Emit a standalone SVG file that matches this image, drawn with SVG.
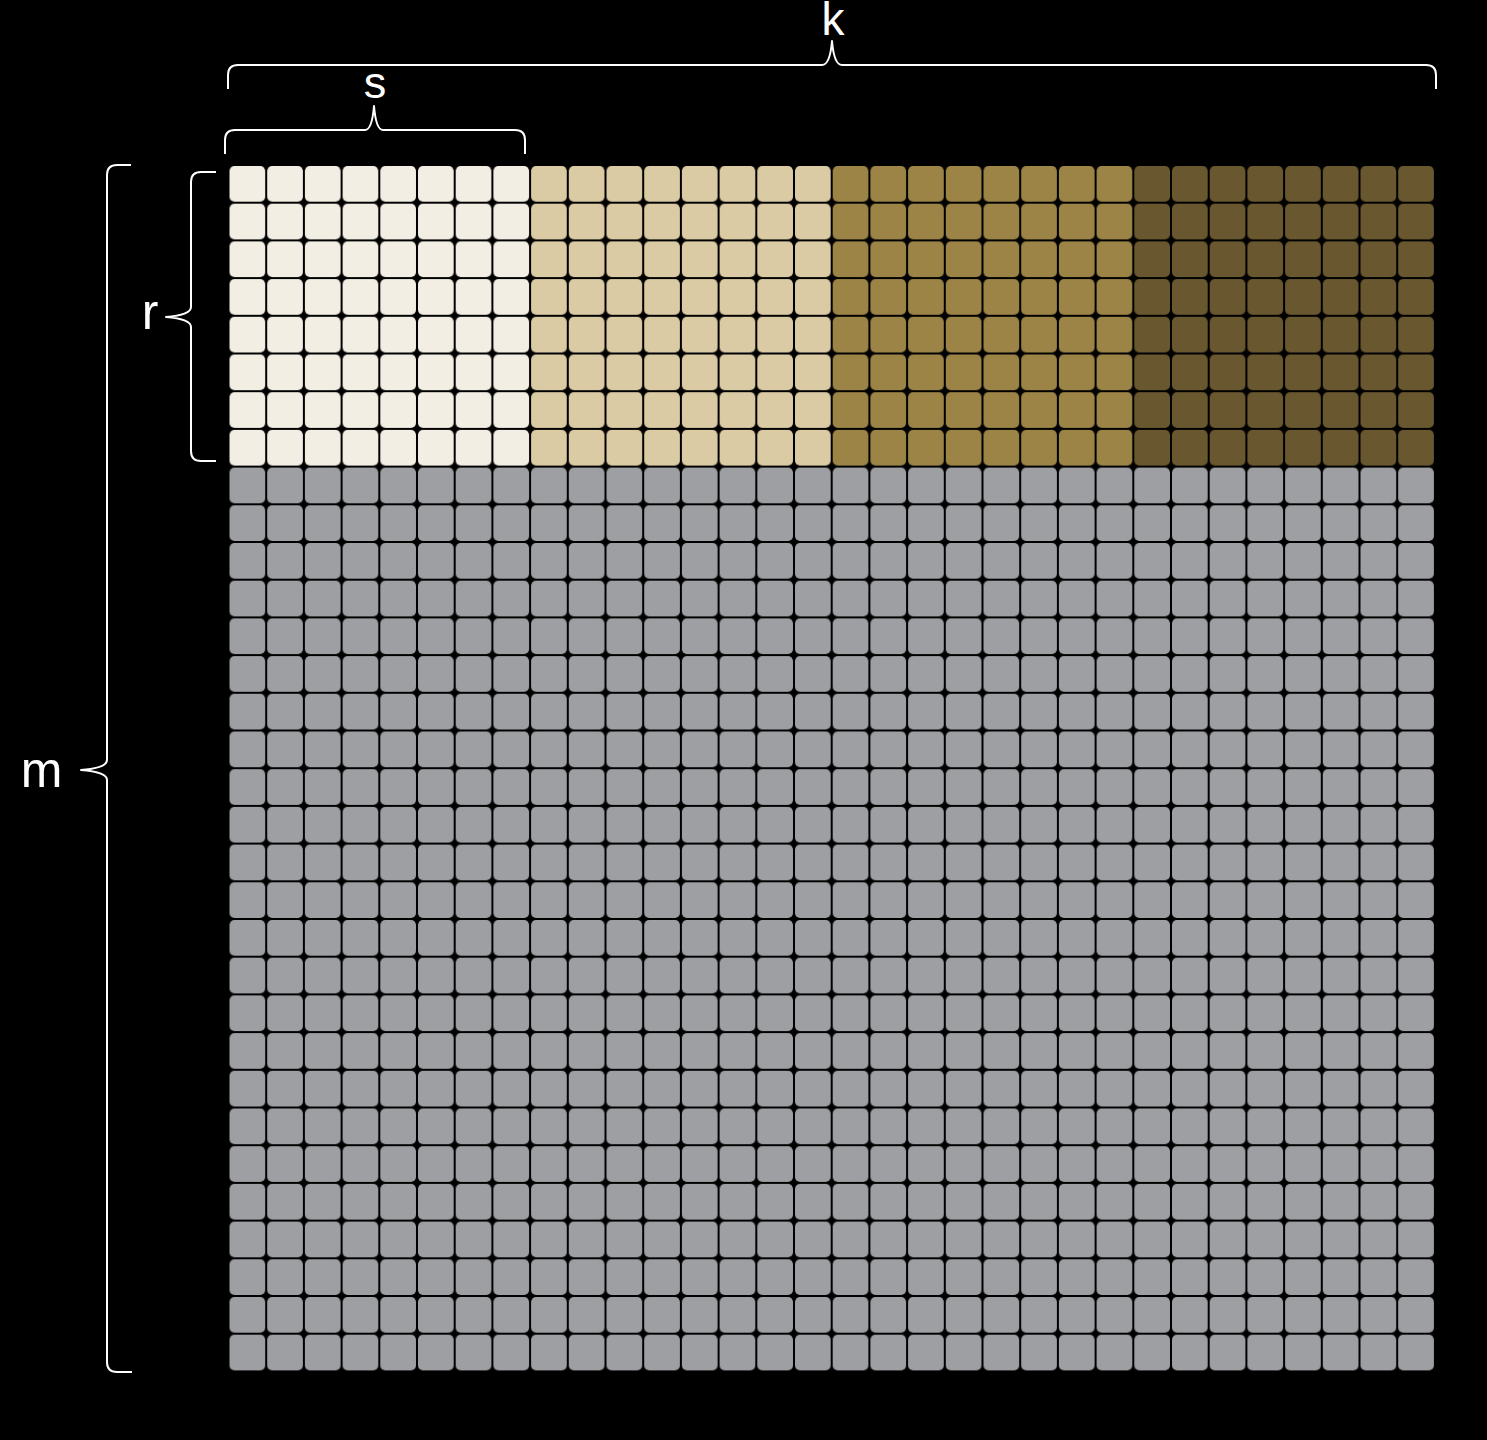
<svg xmlns="http://www.w3.org/2000/svg" width="1487" height="1440" viewBox="0 0 1487 1440">
<style>
.brace{fill:none;stroke:#fff;stroke-width:2;stroke-linejoin:round;stroke-linecap:butt}
.lbl{fill:#fff;font-family:"Liberation Sans",Arial,sans-serif;text-anchor:middle}
</style>
<defs>
<pattern id="pC" x="228.5" y="165" width="37.7" height="37.7" patternUnits="userSpaceOnUse"><rect x="1" y="1" width="35.7" height="35.7" rx="5" fill="#F3EEE4"/></pattern>
<pattern id="pT" x="228.5" y="165" width="37.7" height="37.7" patternUnits="userSpaceOnUse"><rect x="1" y="1" width="35.7" height="35.7" rx="5" fill="#DBCBA5"/></pattern>
<pattern id="pG" x="228.5" y="165" width="37.7" height="37.7" patternUnits="userSpaceOnUse"><rect x="1" y="1" width="35.7" height="35.7" rx="5" fill="#9B8446"/></pattern>
<pattern id="pD" x="228.5" y="165" width="37.7" height="37.7" patternUnits="userSpaceOnUse"><rect x="1" y="1" width="35.7" height="35.7" rx="5" fill="#69582F"/></pattern>
<pattern id="pS" x="228.5" y="165" width="37.7" height="37.7" patternUnits="userSpaceOnUse"><rect x="1" y="1" width="35.7" height="35.7" rx="5" fill="#9E9FA3"/></pattern>
</defs>
<rect x="0" y="0" width="1487" height="1440" fill="#000"/>
<g id="grid">
<rect id="block-1" x="228.5" y="165" width="301.6" height="301.6" fill="url(#pC)"/>
<rect id="block-2" x="530.1" y="165" width="301.6" height="301.6" fill="url(#pT)"/>
<rect id="block-3" x="831.7" y="165" width="301.6" height="301.6" fill="url(#pG)"/>
<rect id="block-4" x="1133.3" y="165" width="301.6" height="301.6" fill="url(#pD)"/>
<rect id="rest" x="228.5" y="466.6" width="1206.4" height="904.8" fill="url(#pS)"/>
</g>
<g id="braces">
<path class="brace" d="M228,89 V75 Q228,65 238,65 H822 Q830,65 832,41 Q834,65 842,65 H1426 Q1436,65 1436,75 V89"/>
<path class="brace" d="M225,154 V140 Q225,130 235,130 H365 Q372,130 374,106 Q376,130 383,130 H515 Q525,130 525,140 V154"/>
<path class="brace" d="M216,172 H201 Q191,172 191,182 V307 Q191,315 166,317 Q191,319 191,327 V451 Q191,461 201,461 H216"/>
<path class="brace" d="M131,165 H117 Q107,165 107,175 V760 Q107,768 81,770 Q107,772 107,780 V1362 Q107,1372 117,1372 H132"/>
</g>
<g id="labels">
<text class="lbl" x="833" y="35" font-size="46">k</text>
<text class="lbl" x="375" y="98" font-size="45">s</text>
<text class="lbl" x="150" y="329" font-size="50">r</text>
<text class="lbl" x="41.5" y="787" font-size="50">m</text>
</g>
</svg>
